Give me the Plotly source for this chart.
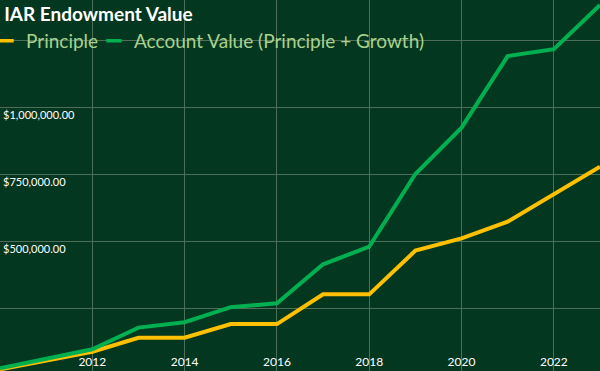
import plotly.graph_objects as go

years = list(range(2010, 2024))
principle = [22000, 55000, 88000, 140000, 140000, 191000, 191000, 302000, 302000,
             465000, 511000, 573000, 675000, 778000]
account_value = [26000, 61000, 97000, 178000, 198000, 254000, 269000, 414000, 480000,
                 751000, 924000, 1191000, 1217000, 1382000]

series_names = ["Principle", "Account Value (Principle + Growth)"]
x_ticks = [2010, 2012, 2014, 2016, 2018, 2020, 2022]
x_tick_labels = ["", "2012", "2014", "2016", "2018", "2020", "2022"]
y_ticks = [0, 250000, 500000, 750000, 1000000, 1250000, 1500000]
y_tick_labels = ["", "", "$500,000.00", "$750,000.00", "$1,000,000.00", "", ""]

BG = "#03371f"
GRID = "#4f6e5a"
YELLOW = "#ffc000"
GREEN = "#00b050"
FONT = "Lato"

fig = go.Figure()
for name, vals, col in [(series_names[0], principle, YELLOW),
                        (series_names[1], account_value, GREEN)]:
    fig.add_trace(go.Scatter(x=years, y=vals, mode="lines", name=name,
                             line=dict(color=col, width=4), showlegend=False))
    # legend entry with a short dash like the reference (nbsp adds spacing)
    fig.add_trace(go.Scatter(x=[None], y=[None], mode="markers", name=name + "\u00a0",
                             marker=dict(symbol="line-ew", size=11, color=col,
                                         line=dict(color=col, width=3.5))))

fig.update_layout(
    width=600, height=371,
    margin=dict(l=0, r=0, t=0, b=0, pad=0, autoexpand=False),
    paper_bgcolor=BG, plot_bgcolor=BG,
    font=dict(family=FONT, color="white"),
    title=dict(text="<b>IAR Endowment Value</b>", x=0.007, xanchor="left",
               y=0.962, yanchor="middle", font=dict(size=19, color="white", family=FONT)),
    legend=dict(orientation="h", x=0, xanchor="left", y=0.89, yanchor="middle",
                bgcolor="rgba(0,0,0,0)", font=dict(size=19, color="#a9d18e", family=FONT),
                itemwidth=30, tracegroupgap=0, indentation=-14),
    showlegend=True,
)
fig.update_xaxes(range=[2010, 2023], tickvals=x_ticks, ticktext=x_tick_labels,
                 ticklabelposition="inside", automargin=False, showgrid=True,
                 gridcolor=GRID, gridwidth=1, zeroline=False, showline=False, ticks="",
                 tickfont=dict(size=12, color="white", family=FONT))
fig.update_yaxes(range=[16000, 1400400], tickvals=y_ticks, ticktext=y_tick_labels,
                 ticklabelposition="inside bottom", automargin=False, showgrid=True,
                 gridcolor=GRID, gridwidth=1, zeroline=False, showline=False, ticks="",
                 tickfont=dict(size=11, color="white", family=FONT))

fig.write_html("out.html", config={"displayModeBar": False},
               post_script="document.body.style.margin='0';")
